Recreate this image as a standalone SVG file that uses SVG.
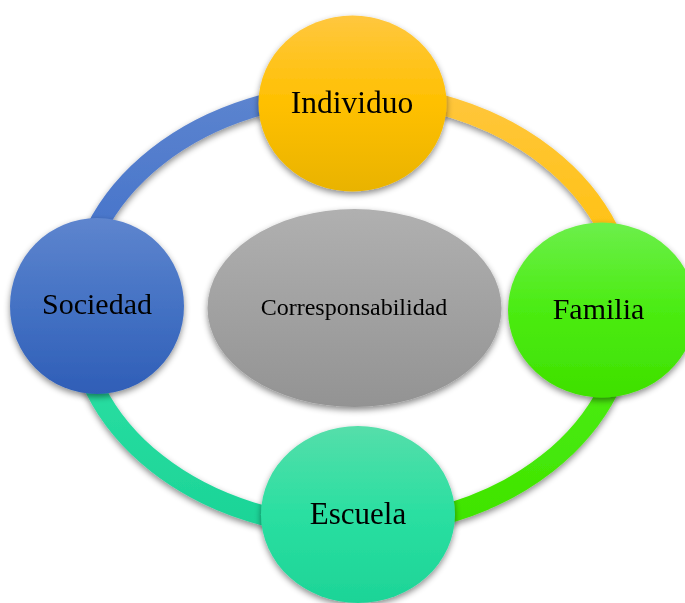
<svg xmlns="http://www.w3.org/2000/svg" width="685" height="603" viewBox="0 0 685 603">
  <defs>
    <filter id="sh" x="-20%" y="-20%" width="140%" height="140%">
      <feDropShadow dx="0" dy="3" stdDeviation="3" flood-color="#000" flood-opacity="0.45"/>
    </filter>
    <linearGradient id="gInd" x1="0" y1="0" x2="0" y2="1">
      <stop offset="0" stop-color="#FFC73F"/>
      <stop offset="0.5" stop-color="#FFC000"/>
      <stop offset="1" stop-color="#E9B300"/>
    </linearGradient>
    <linearGradient id="gFam" x1="0" y1="0" x2="0" y2="1">
      <stop offset="0" stop-color="#6CEF4B"/>
      <stop offset="0.5" stop-color="#4BEC12"/>
      <stop offset="1" stop-color="#3FE000"/>
    </linearGradient>
    <linearGradient id="gSoc" x1="0" y1="0" x2="0" y2="1">
      <stop offset="0" stop-color="#5E85CE"/>
      <stop offset="0.5" stop-color="#4472C4"/>
      <stop offset="1" stop-color="#2F5EB7"/>
    </linearGradient>
    <linearGradient id="gEsc" x1="0" y1="0" x2="0" y2="1">
      <stop offset="0" stop-color="#55DEAA"/>
      <stop offset="0.5" stop-color="#2ADFA1"/>
      <stop offset="1" stop-color="#1DD497"/>
    </linearGradient>
    <linearGradient id="gCen" x1="0" y1="0" x2="0" y2="1">
      <stop offset="0" stop-color="#B0B0B0"/>
      <stop offset="1" stop-color="#939393"/>
    </linearGradient>
    <linearGradient id="aBlue" gradientUnits="userSpaceOnUse" x1="0" y1="93" x2="0" y2="310">
      <stop offset="0" stop-color="#5C84CF"/>
      <stop offset="1" stop-color="#3C6CC8"/>
    </linearGradient>
    <linearGradient id="aOr" gradientUnits="userSpaceOnUse" x1="0" y1="93" x2="0" y2="310">
      <stop offset="0" stop-color="#FFC63C"/>
      <stop offset="1" stop-color="#FFC000"/>
    </linearGradient>
    <linearGradient id="aTeal" gradientUnits="userSpaceOnUse" x1="0" y1="310" x2="0" y2="527">
      <stop offset="0" stop-color="#2EE2A6"/>
      <stop offset="1" stop-color="#1CD497"/>
    </linearGradient>
    <linearGradient id="aGreen" gradientUnits="userSpaceOnUse" x1="0" y1="310" x2="0" y2="527">
      <stop offset="0" stop-color="#4EEF18"/>
      <stop offset="1" stop-color="#40E400"/>
    </linearGradient>
    <style>
      .arc { fill: none; stroke-width: 20; }
      .node { filter: url(#sh); }
      .lbl { font-family: "Liberation Serif", "Times New Roman", serif; font-size: 30px; fill: #000; text-anchor: middle; }
      .clbl { font-family: "Liberation Serif", "Times New Roman", serif; font-size: 24px; fill: #000; text-anchor: middle; }
    </style>
  </defs>
  <rect width="685" height="603" fill="#FFFFFF"/>
  <g id="connectors" filter="url(#sh)">
    <path class="arc" stroke="url(#aBlue)" d="M352,93 A276,217 0 0 0 76,310"/>
    <path class="arc" stroke="url(#aTeal)" d="M76,310 A276,217 0 0 0 352,527"/>
    <path class="arc" stroke="url(#aGreen)" d="M352,527 A276,217 0 0 0 628,310"/>
    <path class="arc" stroke="url(#aOr)" d="M628,310 A276,217 0 0 0 352,93"/>
  </g>
  <g id="center" class="node">
    <ellipse cx="354.5" cy="308" rx="147" ry="99" fill="url(#gCen)"/>
    <text class="clbl" x="354" y="315">Corresponsabilidad</text>
  </g>
  <g id="individuo" class="node">
    <ellipse cx="352.5" cy="103.5" rx="94" ry="88" fill="url(#gInd)"/>
    <text class="lbl" x="352" y="113" style="font-size:31.5px">Individuo</text>
  </g>
  <g id="familia" class="node">
    <ellipse cx="602" cy="310" rx="94" ry="87.5" fill="url(#gFam)"/>
    <text class="lbl" x="598.5" y="319">Familia</text>
  </g>
  <g id="escuela" class="node">
    <ellipse cx="358" cy="514.5" rx="97" ry="88.5" fill="url(#gEsc)"/>
    <text class="lbl" x="358" y="524" style="font-size:31px">Escuela</text>
  </g>
  <g id="sociedad" class="node">
    <ellipse cx="97" cy="306" rx="87" ry="88" fill="url(#gSoc)"/>
    <text class="lbl" x="97" y="314">Sociedad</text>
  </g>
</svg>
